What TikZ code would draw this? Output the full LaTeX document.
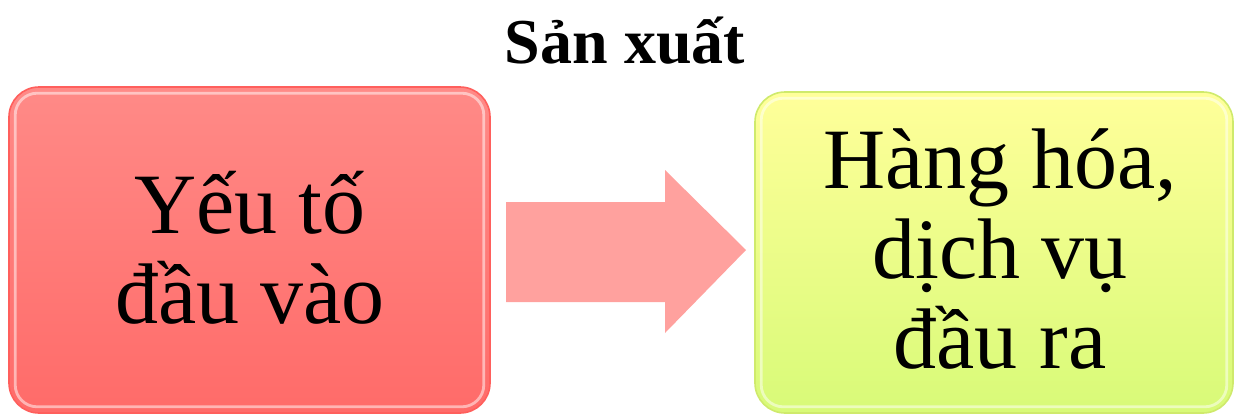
\documentclass[tikz,border=0pt]{standalone}
\usepackage{fontspec}
\setmainfont{Liberation Serif}
\usetikzlibrary{positioning}
\definecolor{redTop}{HTML}{FF8A87}
\definecolor{redBot}{HTML}{FF6B69}
\definecolor{redEdge}{HTML}{FF5F5C}
\definecolor{yelTop}{HTML}{FFFF9A}
\definecolor{yelBot}{HTML}{D8FA78}
\definecolor{yelEdge}{HTML}{CFEA6C}
\definecolor{flowRed}{HTML}{FFA19E}

\begin{document}
\begin{tikzpicture}[x=0.5pt, y=0.5pt,
    stagebox/.style={rounded corners=15pt, inner sep=0pt, line width=0.8pt},
    stagetext/.style={anchor=base, align=center, font=\fontsize{43}{45}\selectfont},
    gloss/.style={white, opacity=.5, line width=1.4pt, rounded corners=11pt}]
  \useasboundingbox (0, 0) rectangle (1236, 414);
  % hai khoi
  \node[stagebox, draw=redEdge, top color=redTop, bottom color=redBot,
        minimum width=240.5pt, minimum height=163pt] (input) at (249.5, 164) {};
  \node[stagebox, draw=yelEdge, top color=yelTop, bottom color=yelBot,
        minimum width=239pt, minimum height=160.5pt] (output) at (994, 161.5) {};
  \draw[gloss] ([shift={(7,7)}]input.south west) rectangle ([shift={(-7,-7)}]input.north east);
  \draw[gloss] ([shift={(7,7)}]output.south west) rectangle ([shift={(-7,-7)}]output.north east);
  % mui ten
  \fill[flowRed] (506, 112) -- (665, 112) -- (665, 81) -- (746, 164)
                 -- (665, 244) -- (665, 212) -- (506, 212) -- cycle;
  % chu (base = dong cuoi)
  \node[stagetext] (inText) at (250, 91) {Yếu tố\\đầu vào};
  \node[stagetext] (outText) at (1000, 46) {Hàng hóa,\\dịch vụ\\đầu ra};
  \node[anchor=base, font=\bfseries\fontsize{32}{36}\selectfont] (title) at (625, 351) {Sản xuất};
\end{tikzpicture}
\end{document}
